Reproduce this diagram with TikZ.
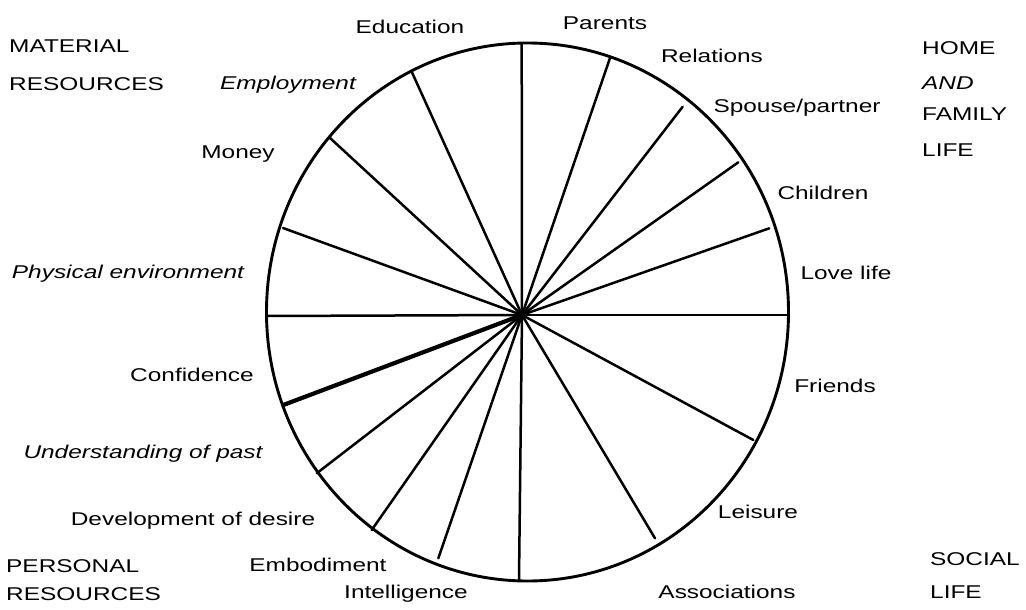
\documentclass[tikz,border=0pt]{standalone}
\usepackage{fontspec}
\setmainfont{Liberation Sans}[FakeStretch=1.32]
\begin{document}
\begin{tikzpicture}[x=1pt,y=-1pt,
  lbl/.style={font=\fontsize{18.5}{20}\selectfont, inner sep=0pt, anchor=base},
  grp/.style={font=\fontsize{18.5}{20}\selectfont, inner sep=0pt, anchor=base west},
  rim/.style={line width=2.9pt},
  spoke/.style={line width=2.5pt, line cap=round},
  thickspoke/.style={line width=4.2pt, line cap=round}]
\useasboundingbox (0,0) rectangle (1026,610);
% wheel
\coordinate (o) at (522,315);
\coordinate (w) at (527.5,312);
\draw[rim] (w) ellipse [x radius=261, y radius=269];
% spoke ends
\coordinate (pTop) at (521.7,44);
\coordinate (pRel) at (610,58);
\coordinate (pSpo) at (682.7,106.7);
\coordinate (pChi) at (738.3,162.3);
\coordinate (pLov) at (769.3,228.3);
\coordinate (pRight) at (788.5,315);
\coordinate (pFri) at (753.3,440);
\coordinate (pAss) at (655,538.3);
\coordinate (pBot) at (519,580);
\coordinate (pEmb) at (438.3,558.3);
\coordinate (pDev) at (371.7,530);
\coordinate (pUnd) at (316.7,473.3);
\coordinate (pCon) at (283.3,405);
\coordinate (pLeft) at (266.5,316);
\coordinate (pPhy) at (283,228);
\coordinate (pMon) at (330,138);
\coordinate (pEdu) at (411.7,71.7);
\foreach \p in {pTop,pRel,pSpo,pChi,pLov,pRight,pFri,pAss,pBot,pEmb,pDev,pUnd,pLeft,pPhy,pMon,pEdu}
  \draw[spoke] (o) -- (\p);
\draw[thickspoke] (o) -- (pCon);
% sector labels
\node[lbl] (edu) at (410,34) {Education};
\node[lbl] (par) at (605,30) {Parents};
\node[lbl] (rel) at (712,63) {Relations};
\node[lbl] (spo) at (797,112) {Spouse/partner};
\node[lbl] (chi) at (823,199) {Children};
\node[lbl] (lov) at (846,279) {Love life};
\node[lbl] (fri) at (835,392) {Friends};
\node[lbl] (lei) at (758,518) {Leisure};
\node[lbl] (ass) at (727,598) {Associations};
\node[lbl] (int) at (406,598) {Intelligence};
\node[lbl] (emb) at (318,571) {Embodiment};
\node[lbl] (dev) at (193,525) {Development of desire};
\node[lbl] (und) at (143,458) {\itshape Understanding of past};
\node[lbl] (con) at (192,381) {Confidence};
\node[lbl] (phy) at (128,278) {\itshape Physical environment};
\node[lbl] (mon) at (238,158) {Money};
\node[lbl] (emp) at (288,90) {\itshape Employment};
% group labels
\node[grp] (mat1) at (9,53) {MATERIAL};
\node[grp] (mat2) at (9,91) {RESOURCES};
\node[grp] (hom1) at (922,55) {HOME};
\node[grp] (hom2) at (922,89) {\itshape AND};
\node[grp] (hom3) at (922,121) {FAMILY};
\node[grp] (hom4) at (922,156) {LIFE};
\node[grp] (soc1) at (930,565) {SOCIAL};
\node[grp] (soc2) at (930,598) {LIFE};
\node[grp] (per1) at (6,572) {PERSONAL};
\node[grp] (per2) at (6,600) {RESOURCES};
\end{tikzpicture}
\end{document}
